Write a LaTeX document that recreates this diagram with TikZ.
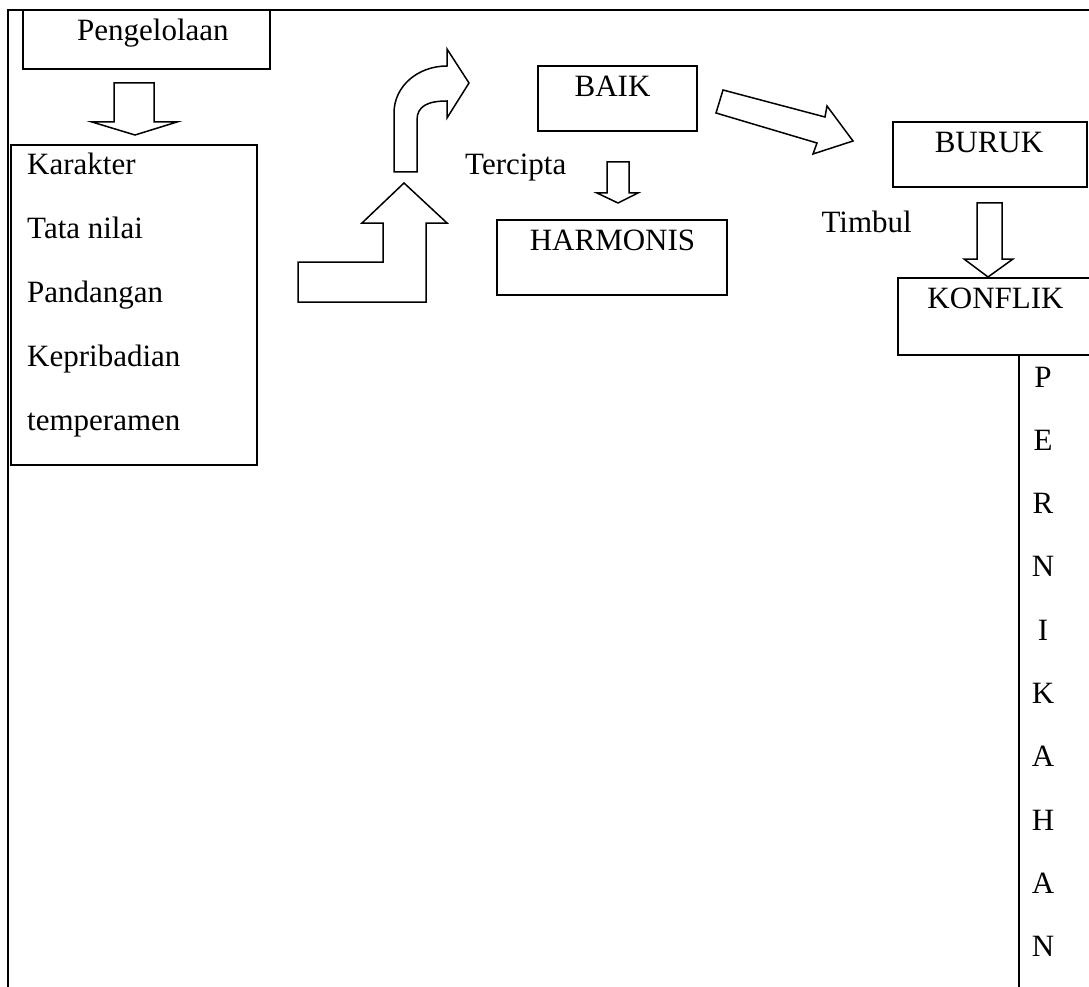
\documentclass[tikz,border=0pt]{standalone}
\usepackage{fontspec}
\setmainfont{Liberation Serif}

\begin{document}
\begin{tikzpicture}[
    x=1pt, y=-1pt,
    every node/.style={font=\fontsize{31}{37}\selectfont, inner sep=0pt},
    box/.style={draw, line width=2pt},
    word/.style={anchor=base west},
    letter/.style={anchor=base},
    blockarrow/.style={draw, line width=1.5pt, line join=miter, fill=white}]

  \useasboundingbox (0,0) rectangle (1089,987);
  \clip (0,0) rectangle (1089,987);

  % frame
  \draw[line width=2pt] (7.5,990) -- (7.5,10) -- (1095,10);

  % boxes
  \node[box, minimum width=247, minimum height=59] (peng) at (146.5,39.5) {};
  \node[word] (pengtxt) at (77,41) {Pengelolaan};
  \node[box, minimum width=246, minimum height=320] (sifat) at (134,305) {};
  \foreach \t [count=\i from 0] in {Karakter, Tata nilai, Pandangan, Kepribadian, temperamen}
    \node[word] (sifat\i) at (27,{175+63.75*\i}) {\t};

  \node[box, minimum width=159, minimum height=65] (baik) at (617.5,98.5) {};
  \node[letter] (baiktxt) at (612.5,97) {BAIK};
  \node[word] (tercipta) at (465,175) {Tercipta};
  \node[box, minimum width=230, minimum height=75] (harm) at (612,257.5) {};
  \node[letter] (harmtxt) at (612.5,250) {HARMONIS};

  \node[box, minimum width=194, minimum height=65] (buruk) at (990,154.5) {};
  \node[letter] (buruktxt) at (989,153) {BURUK};
  \node[anchor=base east] (timbul) at (912,233) {Timbul};
  \node[box, minimum width=200, minimum height=77] (konf) at (998,316.5) {};
  \node[letter] (konftxt) at (995.5,308) {KONFLIK};

  % column
  \coordinate (colTop) at (1019,355);
  \coordinate (colBot) at (1019,990);
  \draw[line width=2pt] (colTop) -- (colBot);
  \foreach \l [count=\i from 0] in {P,E,R,N,I,K,A,H,A,N}
    \node[letter] (huruf\i) at (1043,{387+63.3*\i}) {\l};

  % block arrows
  \draw[blockarrow] (114,83) -- (154,83) -- (154,122) -- (177,122) -- (135,135)
    -- (92,122) -- (114,122) -- cycle;
  \draw[blockarrow] (298,262) -- (383,262) -- (383,223) -- (362,223) -- (404,183)
    -- (447,223) -- (426,223) -- (426,302) -- (298,302) -- cycle;
  \draw[blockarrow] (394,172) -- (394,113) .. controls (394,86) and (418,66) .. (447,66)
    -- (447,49) -- (469,83) -- (447,118) -- (447,101)
    .. controls (428,101) and (417,106) .. (417,120) -- (417,172) -- cycle;
  \draw[blockarrow] (607,162) -- (629,162) -- (629,193) -- (638,193) -- (618,203)
    -- (597,193) -- (607,193) -- cycle;
  \draw[blockarrow] (723,90) -- (825,117) -- (827,106) -- (853,141) -- (813,154)
    -- (817,143) -- (716,113) -- cycle;
  \draw[blockarrow] (977,203) -- (1002,203) -- (1002,259) -- (1013,259) -- (988,277)
    -- (964,259) -- (977,259) -- cycle;
\end{tikzpicture}
\end{document}
